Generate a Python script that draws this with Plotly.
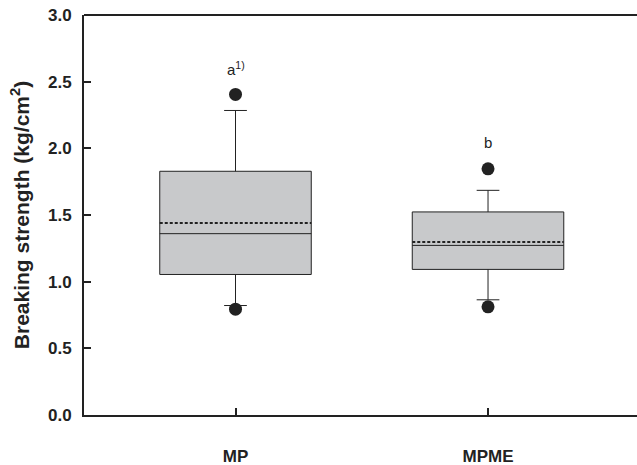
import plotly.graph_objects as go

categories = ["MP", "MPME"]
q1 = [1.054, 1.092]
median = [1.36, 1.272]
q3 = [1.828, 1.523]
mean = [1.44, 1.297]
lower_whisker = [0.821, 0.864]
upper_whisker = [2.284, 1.685]
low_outlier = [0.794, 0.811]
high_outlier = [2.404, 1.846]
letters = ["a<sup>1)</sup>", "b"]
letter_y = [2.6, 2.046]
y_ticks = [0.0, 0.5, 1.0, 1.5, 2.0, 2.5, 3.0]

dark = "#222222"
fam = "Liberation Sans, Arial"
box_w = 0.6
pos = list(range(len(categories)))

fig = go.Figure()
fig.add_trace(go.Box(
    x=pos, q1=q1, median=median, q3=q3,
    lowerfence=lower_whisker, upperfence=upper_whisker,
    boxpoints=False, width=box_w, whiskerwidth=0.15,
    fillcolor="#c8c9cb", line=dict(color=dark, width=1),
    showlegend=False, hoverinfo="skip"))

# mean lines (dashed) across each box
for p, m in zip(pos, mean):
    fig.add_trace(go.Scatter(
        x=[p - box_w / 2, p + box_w / 2], y=[m, m], mode="lines",
        line=dict(color=dark, width=2, dash="3px,2px"),
        showlegend=False, hoverinfo="skip"))

fig.add_trace(go.Scatter(
    x=pos + pos, y=low_outlier + high_outlier, mode="markers",
    marker=dict(color=dark, size=13), showlegend=False, hoverinfo="skip"))

for p, t, yy in zip(pos, letters, letter_y):
    fig.add_annotation(x=p, y=yy, text=t, showarrow=False,
                       font=dict(family=fam, size=15, color=dark))

fig.add_shape(type="line", xref="paper", yref="paper", x0=0, x1=1, y0=1, y1=1,
              line=dict(color=dark, width=2))

fig.update_layout(
    width=637, height=465,
    margin=dict(l=84, r=0, t=15, b=50),
    paper_bgcolor="white", plot_bgcolor="white",
    font=dict(family=fam, color=dark),
    xaxis=dict(range=[-0.6, 1.59], tickvals=pos, ticktext=categories,
               showgrid=False, zeroline=False, automargin=False,
               showline=True, linecolor=dark, linewidth=2,
               ticks="inside", ticklen=7, tickwidth=1.5, tickcolor=dark,
               tickfont=dict(size=17, family=fam, color=dark, weight="bold"),
               ticklabelstandoff=25),
    yaxis=dict(range=[0, 3.0], tickvals=y_ticks, ticktext=[f"{v:.1f}" for v in y_ticks],
               showgrid=False, zeroline=False, automargin=False,
               showline=True, linecolor=dark, linewidth=2,
               ticks="inside", ticklen=7, tickwidth=1.5, tickcolor=dark,
               tickfont=dict(size=17, family=fam, color=dark, weight="bold"),
               ticklabelstandoff=7,
               title=dict(text="Breaking strength (kg/cm<sup>2</sup>)", standoff=13,
                          font=dict(size=21, family=fam, color=dark, weight="bold"))),
)
fig.write_html("out.html", config={"displayModeBar": False},
               post_script="document.body.style.margin='0';")
